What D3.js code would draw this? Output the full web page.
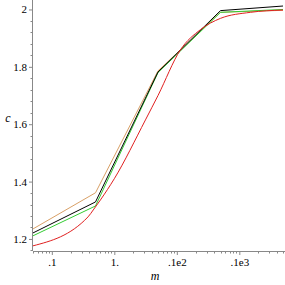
<!DOCTYPE html>
<html>
<head>
<meta charset="utf-8">
<script src="https://cdn.jsdelivr.net/npm/d3@7"></script>
<style>
  body { margin: 0; background: #fff; }
  svg { display: block; }
  text { font-family: "DejaVu Serif", "Liberation Serif", serif; }
</style>
</head>
<body>
<svg></svg>
<script>
// sample points on m
var mVals = [0.05, 0.5, 5, 50, 500];
var blackVals = [1.221, 1.329, 1.782, 1.996, 2.012];
var greenVals = [1.211, 1.315, 1.780, 1.990, 2.000];
var tanVals = [1.235, 1.361, 1.786, 1.990, 1.997];

var redM = [0.05, 0.38, 0.46, 0.6, 1, 3.15, 5, 11.4, 24, 50, 150, 500];
var redVals = [1.176, 1.277, 1.301, 1.336, 1.41, 1.615, 1.70, 1.859, 1.93, 1.969, 1.99, 1.998];

var xTicks = [0.1, 1, 10, 100];
var xTickLabels = [".1", "1.", ".1e2", ".1e3"];
var yTicks = [1.2, 1.4, 1.6, 1.8, 2];
var yTickLabels = ["1.2", "1.4", "1.6", "1.8", "2"];

var svg = d3.select("svg")
            .attr("width", 285)
            .attr("height", 285);

var margins = {left: 33, right: 2, top: 0, bottom: 34};
var width = 285 - margins.left - margins.right;
var height = 285 - margins.top - margins.bottom;

var xScale = d3.scaleLog()
               .domain([0.05, 500])
               .range([margins.left, margins.left + width]);

var yScale = d3.scaleLinear()
               .domain([1.158, 2.033])
               .range([margins.top + height, margins.top]);

var axisColor = "#888";
var font = "Liberation Serif";

// minor ticks
var xMinor = [];
[0.01, 0.1, 1, 10, 100].forEach(function(dec) {
  for (var k = 2; k <= 9; k++) {
    var v = dec * k;
    if (v >= 0.05 && v <= 500) xMinor.push(v);
  }
});
var yMinor = d3.range(1.16, 2.03, 0.04).filter(function(v) {
  return Math.abs(Math.round(v * 5) - v * 5) > 0.01;
});

var xAxis = d3.axisBottom(xScale)
              .tickValues(xTicks)
              .tickFormat(function(d, i) { return xTickLabels[i]; })
              .tickSize(4)
              .tickPadding(3);

var yAxis = d3.axisLeft(yScale)
                .tickValues(yTicks)
                .tickFormat(function(d, i) { return yTickLabels[i]; })
                .tickSize(4)
                .tickPadding(2);

var gx = svg.append("g")
   .attr("transform", "translate(0," + (margins.top + height) + ")")
   .call(xAxis)
   .attr("font-family", null);

gx.selectAll(".tick line").attr("stroke", axisColor);
gx.select(".domain").attr("stroke", axisColor).attr("d", "M" + margins.left + ",0.5H285");
gx.selectAll(".tick text").style("font-family", font).attr("font-size", 11).attr("fill", "#000");

gx.selectAll(".minor")
  .data(xMinor)
  .enter()
  .append("line")
  .attr("class", "minor")
  .attr("x1", function(d) { return Math.round(xScale(d)) + 0.5; })
  .attr("x2", function(d) { return Math.round(xScale(d)) + 0.5; })
  .attr("y1", 0)
  .attr("y2", 2.5)
  .attr("stroke", axisColor);

var gy = svg.append("g")
   .attr("transform", "translate(" + margins.left + ",0)")
   .call(yAxis)
   .attr("font-family", null);

gy.selectAll(".tick line").attr("stroke", axisColor);
gy.select(".domain").attr("stroke", axisColor).attr("d", "M-0.5,0V" + (margins.top + height));
gy.selectAll(".tick text").style("font-family", font).attr("font-size", 11).attr("fill", "#000");

gy.selectAll(".minor")
  .data(yMinor)
  .enter()
  .append("line")
  .attr("class", "minor")
  .attr("x1", -2.5)
  .attr("x2", 0)
  .attr("y1", function(d) { return Math.round(yScale(d)) + 0.5; })
  .attr("y2", function(d) { return Math.round(yScale(d)) + 0.5; })
  .attr("stroke", axisColor);

// axis titles
svg.append("text")
   .attr("x", 155)
   .attr("y", 280)
   .attr("text-anchor", "middle")
   .style("font-family", font)
   .attr("font-style", "italic")
   .attr("font-size", 12)
   .text("m");

svg.append("text")
   .attr("x", 8)
   .attr("y", 122)
   .attr("text-anchor", "middle")
   .style("font-family", font)
   .attr("font-style", "italic")
   .attr("font-size", 12)
   .text("c");

var line = d3.line()
             .x(function(d) { return xScale(d[0]); })
             .y(function(d) { return yScale(d[1]); });

var series = [
  {vals: tanVals, color: "#d9a066"},
  {vals: greenVals, color: "#33cc33"},
  {vals: blackVals, color: "#000000"}
];

series.forEach(function(s) {
  svg.append("path")
     .datum(mVals.map(function(m, i) { return [m, s.vals[i]]; }))
     .attr("fill", "none")
     .attr("stroke", s.color)
     .attr("stroke-width", 1)
     .attr("d", line);
});

svg.append("path")
   .datum(redM.map(function(m, i) { return [m, redVals[i]]; }))
   .attr("fill", "none")
   .attr("stroke", "#e02020")
   .attr("stroke-width", 1)
   .attr("d", line.curve(d3.curveMonotoneX));
</script>
</body>
</html>
